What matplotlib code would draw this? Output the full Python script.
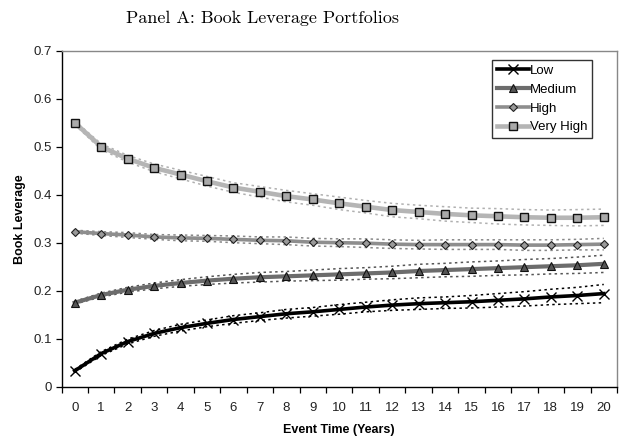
import matplotlib
matplotlib.use("Agg")
import matplotlib.pyplot as plt
from matplotlib.ticker import FixedLocator, FixedFormatter

plt.rcParams["font.family"] = ["Liberation Sans", "DejaVu Sans"]
plt.rcParams["axes.unicode_minus"] = False

years = list(range(21))
y_ticks = [0.0, 0.1, 0.2, 0.3, 0.4, 0.5, 0.6, 0.7]
y_tick_labels = ["0", "0.1", "0.2", "0.3", "0.4", "0.5", "0.6", "0.7"]

low = [0.033, 0.069, 0.094, 0.111, 0.123, 0.132, 0.140, 0.146, 0.152, 0.156, 0.161,
       0.166, 0.170, 0.173, 0.175, 0.177, 0.180, 0.183, 0.187, 0.190, 0.194]
medium = [0.175, 0.191, 0.202, 0.210, 0.216, 0.221, 0.225, 0.228, 0.230, 0.232, 0.234,
          0.236, 0.238, 0.241, 0.243, 0.245, 0.247, 0.249, 0.251, 0.253, 0.256]
high = [0.323, 0.319, 0.316, 0.312, 0.310, 0.309, 0.307, 0.305, 0.304, 0.301, 0.300,
        0.299, 0.297, 0.296, 0.296, 0.296, 0.296, 0.295, 0.295, 0.296, 0.297]
very_high = [0.550, 0.500, 0.475, 0.456, 0.442, 0.428, 0.415, 0.406, 0.397, 0.390, 0.382,
             0.375, 0.368, 0.364, 0.360, 0.357, 0.355, 0.353, 0.352, 0.352, 0.353]

# half-width of the confidence band around each portfolio
low_band = [0.003, 0.004, 0.005, 0.006, 0.007, 0.007, 0.008, 0.008, 0.009, 0.009, 0.010,
            0.010, 0.011, 0.012, 0.012, 0.013, 0.014, 0.015, 0.016, 0.017, 0.019]
medium_band = [0.003, 0.004, 0.005, 0.006, 0.007, 0.008, 0.009, 0.010, 0.010, 0.011, 0.012,
               0.012, 0.013, 0.014, 0.014, 0.015, 0.015, 0.016, 0.016, 0.017, 0.018]
high_band = [0.003, 0.004, 0.005, 0.005, 0.006, 0.006, 0.007, 0.007, 0.008, 0.008, 0.008,
             0.009, 0.009, 0.009, 0.010, 0.010, 0.010, 0.011, 0.011, 0.011, 0.012]
very_high_band = [0.004, 0.006, 0.007, 0.008, 0.009, 0.010, 0.010, 0.011, 0.012, 0.012, 0.013,
                  0.013, 0.014, 0.014, 0.015, 0.015, 0.016, 0.016, 0.016, 0.017, 0.017]

series = [
    ("Low", low, low_band, dict(color="black", lw=2.6, marker="x", ms=7, mew=1.0,
                                mfc="black", mec="black"), "black"),
    ("Medium", medium, medium_band, dict(color="#6c6c6c", lw=3.0, marker="^", ms=6, mew=0.8,
                                         mfc="#555555", mec="#111111"), "#555555"),
    ("High", high, high_band, dict(color="#8e8e8e", lw=2.6, marker="D", ms=4.3, mew=0.8,
                                   mfc="#9a9a9a", mec="#222222"), "#888888"),
    ("Very High", very_high, very_high_band, dict(color="#b5b5b5", lw=3.3, marker="s", ms=6,
                                                  mew=1.0, mfc="#aaaaaa", mec="#111111"), "#b0b0b0"),
]

fig = plt.figure(figsize=(6.22, 4.37), dpi=100)
ax = fig.add_axes([61.5 / 622, 1 - 386.7 / 437, (617 - 61.5) / 622, (386.7 - 50.7) / 437])

for name, vals, band, style, band_color in series:
    upper = [v + b for v, b in zip(vals, band)]
    lower = [v - b for v, b in zip(vals, band)]
    ax.plot(years, upper, ls=(0, (1.6, 2.2)), lw=1.1, color=band_color, zorder=2)
    ax.plot(years, lower, ls=(0, (1.6, 2.2)), lw=1.1, color=band_color, zorder=2)

handles = []
for name, vals, band, style, band_color in series:
    h, = ax.plot(years, vals, label=name, zorder=3, **style)
    handles.append(h)

ax.set_xlim(-0.5, 20.5)
ax.set_ylim(0, 0.7)
ax.yaxis.set_major_locator(FixedLocator(y_ticks))
ax.yaxis.set_major_formatter(FixedFormatter(y_tick_labels))
ax.xaxis.set_major_locator(FixedLocator(years))
ax.xaxis.set_major_formatter(FixedFormatter([str(y) for y in years]))
ax.xaxis.set_minor_locator(FixedLocator([y - 0.5 for y in years] + [20.5]))
ax.tick_params(axis="x", which="major", length=0, pad=11, labelsize=9.5, colors="#222222")
ax.tick_params(axis="x", which="minor", length=4, width=0.9, direction="out", color="black")
ax.tick_params(axis="y", length=4, width=0.9, direction="out", labelsize=9.5, color="black",
               labelcolor="#222222", pad=3)

for side in ("left", "bottom"):
    ax.spines[side].set_color("black")
    ax.spines[side].set_linewidth(1.0)
for side in ("top", "right"):
    ax.spines[side].set_color("#888888")
    ax.spines[side].set_linewidth(1.0)

ax.set_xlabel("Event Time (Years)", fontsize=9, fontweight="bold", labelpad=7)
ax.set_ylabel("Book Leverage", fontsize=9, fontweight="bold", labelpad=5)

fig.text(262 / 622, 1 - 18 / 437, "Panel A: Book Leverage Portfolios",
         ha="center", va="center", fontsize=13, family=["cmr10", "DejaVu Serif"])

leg = ax.legend(handles=handles, loc="upper right", bbox_to_anchor=(592 / 622, 1 - 60 / 437),
                bbox_transform=fig.transFigure, fontsize=9.5, frameon=True, fancybox=False,
                edgecolor="black", handlelength=2.4, handletextpad=0.1, borderpad=0.35,
                labelspacing=0.5, borderaxespad=0)
leg.get_frame().set_linewidth(1.0)

fig.savefig("out.png", dpi=100)
